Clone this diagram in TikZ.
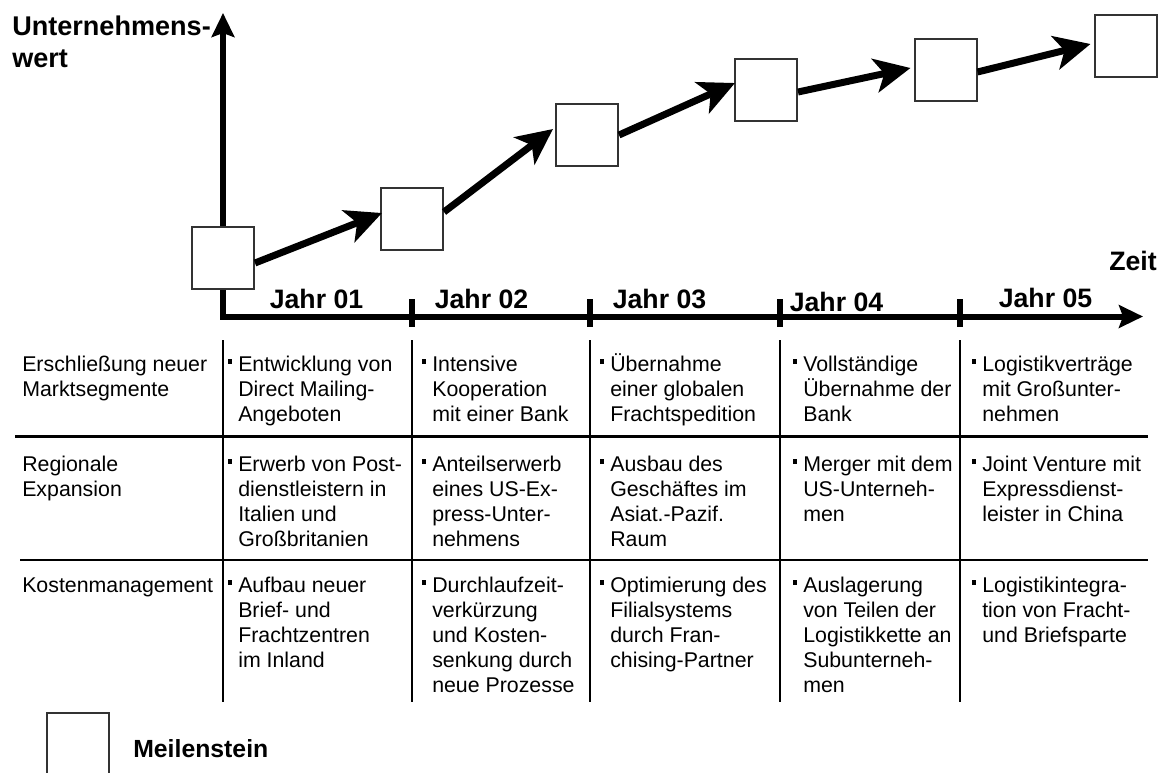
\documentclass[tikz,border=0pt]{standalone}
\usepackage{fontspec}
\setmainfont{Liberation Sans}
\usetikzlibrary{arrows.meta,calc}
% small square bullet hanging left of the first line
\newcommand{\bul}{\llap{\rule[5.6pt]{3.5pt}{3.5pt}\hspace{4.4pt}}}
% a left-aligned block whose baseline is its first line
\newcommand{\cellt}[1]{\begin{tabular}[t]{@{}l@{}}#1\end{tabular}}

\begin{document}
\begin{tikzpicture}[x=0.75pt,y=-0.75pt,
  axis/.style={line width=4.5pt, line join=miter,
    {Stealth[length=18pt,width=17pt,inset=3pt]}-{Stealth[length=18pt,width=17pt,inset=3pt]}},
  yeartick/.style={line width=4.2pt},
  gridline/.style={line width=2.2pt},
  milestone/.style={draw=black!80, line width=1.5pt, fill=white,
    minimum size=46.5pt, inner sep=0pt, outer sep=0.75pt},
  growth/.style={line width=5.25pt, -{Stealth[length=27pt,width=25.5pt,inset=7pt]}},
  body/.style={font=\fontsize{16pt}{18.75pt}\selectfont, anchor=base west, inner sep=0pt},
  head/.style={font=\fontsize{20pt}{24pt}\selectfont\bfseries, inner sep=0pt},
]
\useasboundingbox (0,0) rectangle (1163,772);
\clip (0,0) rectangle (1163,772);

% axes
\coordinate (ytip) at (223,13);
\coordinate (origin) at (223,316.5);
\coordinate (xtip) at (1143,316.5);
\draw[axis] (ytip) -- (origin) -- (xtip);

% year ticks
\foreach \x in {412,590,780,960}
  \draw[yeartick] (\x,299) -- (\x,327);

% axis labels
\node[head, anchor=base west] (ylabel) at (12,35)
  {\fontsize{20.3pt}{24pt}\selectfont\cellt{Unternehmens-\\wert}};
\node[head, anchor=base east] (xlabel) at (1157,270) {Zeit};

% year labels
\node[head, anchor=base] (j1) at (316.5,308) {Jahr 01};
\node[head, anchor=base] (j2) at (481.5,308) {Jahr 02};
\node[head, anchor=base] (j3) at (659.5,308) {Jahr 03};
\node[head, anchor=base] (j4) at (836.5,311.5) {Jahr 04};
\node[head, anchor=base] (j5) at (1045.5,307) {Jahr 05};

% milestones
\node[milestone] (m1) at (223,258) {};
\node[milestone] (m2) at (412,219) {};
\node[milestone] (m3) at (587,135) {};
\node[milestone] (m4) at (766,90) {};
\node[milestone] (m5) at (945.5,69.5) {};
\node[milestone] (m6) at (1125.5,45.5) {};

% value growth between milestones
\draw[growth] ($(m1.east)+(0,5)$) -- ($(m2.west)+(2,-6)$);
\draw[growth] ($(m2.east)+(0,-7)$) -- ($(m3.west)+(-2,-6)$);
\draw[growth] ($(m3.east)+(0,0)$) -- ($(m4.west)+(1,-7)$);
\draw[growth] ($(m4.east)+(0,2)$) -- ($(m5.west)+(-3,-1.5)$);
\draw[growth] ($(m5.east)+(0,2.5)$) -- ($(m6.west)+(-3,-1.5)$);

% table grid
\foreach \x in {223,412,590,780,960}
  \draw[gridline] (\x,340) -- (\x,702);
\draw[gridline] (15,436.5) -- (1148,436.5);
\draw[gridline] (20,560) -- (1148,560);

% row 1
\node[body] (r1c0) at (22,371) {\cellt{Erschließung neuer\\Marktsegmente}};
\node[body] (r1c1) at (238,371) {\cellt{\bul Entwicklung von\\Direct Mailing-\\Angeboten}};
\node[body] (r1c2) at (432,371) {\cellt{\bul Intensive\\Kooperation\\mit einer Bank}};
\node[body] (r1c3) at (610,371) {\cellt{\bul Übernahme\\einer globalen\\Frachtspedition}};
\node[body] (r1c4) at (803,371) {\cellt{\bul Vollständige\\Übernahme der\\Bank}};
\node[body] (r1c5) at (982,371) {\cellt{\bul Logistikverträge\\mit Großunter-\\nehmen}};

% row 2
\node[body] (r2c0) at (22,471) {\cellt{Regionale\\Expansion}};
\node[body] (r2c1) at (238,471) {\cellt{\bul Erwerb von Post-\\dienstleistern in\\Italien und\\Großbritanien}};
\node[body] (r2c2) at (432,471) {\cellt{\bul Anteilserwerb\\eines US-Ex-\\press-Unter-\\nehmens}};
\node[body] (r2c3) at (610,471) {\cellt{\bul Ausbau des\\Geschäftes im\\Asiat.-Pazif.\\Raum}};
\node[body] (r2c4) at (803,471) {\cellt{\bul Merger mit dem\\US-Unterneh-\\men}};
\node[body] (r2c5) at (982,471) {\cellt{\bul Joint Venture mit\\Expressdienst-\\leister in China}};

% row 3
\node[body] (r3c0) at (22,592) {\cellt{Kostenmanagement}};
\node[body] (r3c1) at (238,592) {\cellt{\bul Aufbau neuer\\Brief- und\\Frachtzentren\\im Inland}};
\node[body] (r3c2) at (432,592) {\cellt{\bul Durchlaufzeit-\\verkürzung\\und Kosten-\\senkung durch\\neue Prozesse}};
\node[body] (r3c3) at (610,592) {\cellt{\bul Optimierung des\\Filialsystems\\durch Fran-\\chising-Partner}};
\node[body] (r3c4) at (803,592) {\cellt{\bul Auslagerung\\von Teilen der\\Logistikkette an\\Subunterneh-\\men}};
\node[body] (r3c5) at (982,592) {\cellt{\bul Logistikintegra-\\tion von Fracht-\\und Briefsparte}};

% legend
\node[milestone] (legendbox) at (77.5,744) {};
\node[head, anchor=base west, font=\fontsize{18.6pt}{22pt}\selectfont\bfseries] (legendtext) at (133,757) {Meilenstein};
\end{tikzpicture}
\end{document}
